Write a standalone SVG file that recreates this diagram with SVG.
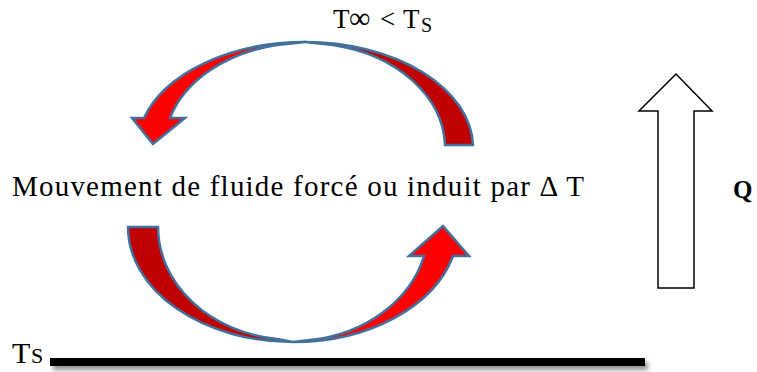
<svg xmlns="http://www.w3.org/2000/svg" width="757" height="372" viewBox="0 0 757 372">
<style>
.t{font-family:"Liberation Serif","Times New Roman",serif;fill:#000}
.arr{stroke:#41719C;stroke-width:2.5;stroke-linejoin:miter}
.dark{fill:#C00000}
.red{fill:#FF0000}
</style>
<defs>
<filter id="sh" x="-5%" y="-100%" width="110%" height="400%">
<feGaussianBlur in="SourceAlpha" stdDeviation="2.5"/>
<feOffset dx="3" dy="4" result="b"/>
<feComponentTransfer><feFuncA type="linear" slope="0.45"/></feComponentTransfer>
<feMerge><feMergeNode/><feMergeNode in="SourceGraphic"/></feMerge>
</filter>
</defs>
<g id="top-label">
<text class="t" font-size="27" y="28"><tspan x="333">T</tspan><tspan x="349" font-size="30">∞</tspan><tspan x="380">&lt;</tspan><tspan x="403">T</tspan><tspan x="421" font-size="20" dy="4">S</tspan></text>
</g>
<g id="connectors">
<g id="top-arrow">
<path class="arr dark" d="M305,42 A168 106 0 0 1 473,145 L445,145 A140 105 0 0 0 333,45 Z"/>
<path class="arr red" d="M305,42 A168 106 0 0 0 144,118 L132,118 L153,144 L185,118 L170,118 A140 105 0 0 1 277,45 Z"/>
</g>
<g id="bottom-arrow">
<path class="arr dark" d="M128,227 A165 115 0 0 0 293,342 L277,339 A135 113 0 0 1 158,227 Z"/>
<path class="arr red" d="M293,342 A165 115 0 0 0 453,256 L469,256 L443,226 L409,256 L424,256 A135 113 0 0 1 310,340 Z"/>
</g>
</g>
<g id="center-label">
<text class="t" font-size="29" x="12" y="196" textLength="572" lengthAdjust="spacing">Mouvement de fluide forcé ou induit par Δ T</text>
</g>
<g id="q-arrow">
<polygon points="676,74 712,111 694,111 694,288 658,288 658,111 639,111" fill="#fff" stroke="#000" stroke-width="1.5"/>
</g>
<g id="q-label">
<text class="t" font-size="25" font-weight="bold" x="733" y="198">Q</text>
</g>
<g id="surface">
<rect x="50" y="358" width="595" height="8" fill="#000" filter="url(#sh)"/>
</g>
<g id="ts-label">
<text class="t" font-size="30" y="363"><tspan x="12">T</tspan><tspan x="31" font-size="22">S</tspan></text>
</g>
</svg>
